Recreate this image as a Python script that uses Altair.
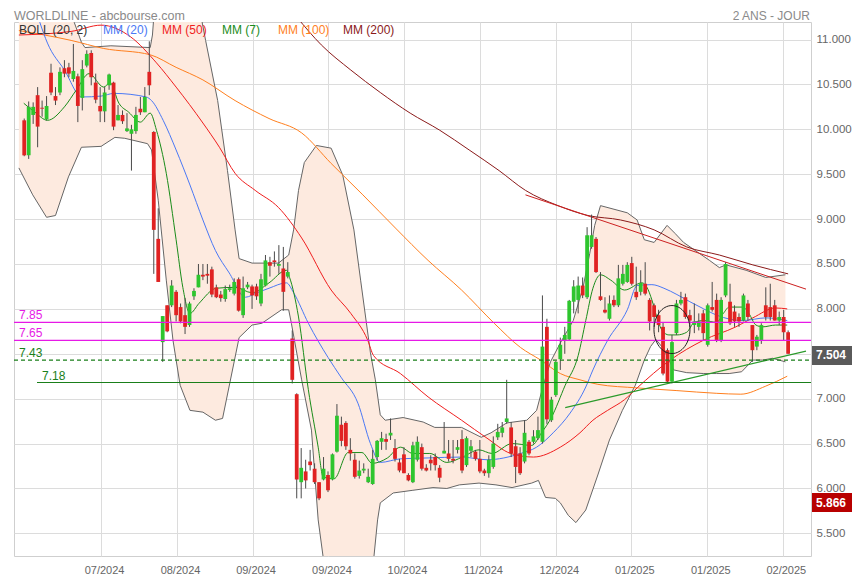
import altair as alt
import pandas as pd

# ---------------- data ----------------
opens = [10.10, 9.71, 10.16, 10.38, 10.24, 10.11, 10.63, 10.37, 10.41, 10.68,
         10.69, 10.56, 10.59, 10.35, 10.71, 10.85, 10.52, 10.26, 10.20, 10.49,
         10.52, 10.10, 10.16, 9.98, 9.95, 9.98, 10.23, 10.19, 10.64, 9.97,
         8.78, 7.63, 8.04, 8.04, 8.19, 8.02, 7.93, 7.82, 8.14, 8.24,
         8.38, 8.39, 8.44, 8.24, 8.16, 8.11, 8.21, 8.17, 8.33, 7.93,
         8.24, 8.25, 8.25, 8.06, 8.26, 8.52, 8.54, 8.48, 8.45, 8.36,
         7.67, 7.05, 6.07, 6.19, 6.30, 6.22, 6.07, 6.10, 6.15, 6.10,
         6.41, 6.71, 6.73, 6.43, 6.32, 6.14, 6.20, 6.07, 6.05, 6.35,
         6.52, 6.55, 6.59, 6.45, 6.29, 6.38, 6.15, 6.07, 6.32, 6.46,
         6.23, 6.32, 6.35, 6.23, 6.39, 6.39, 6.33, 6.43, 6.55, 6.26,
         6.42, 6.41, 6.33, 6.20, 6.17, 6.24, 6.57, 6.62, 6.74, 6.68,
         6.47, 6.39, 6.30, 6.52, 6.52, 6.56, 6.52, 7.80, 6.76, 7.04,
         7.44, 7.65, 7.66, 8.08, 8.10, 8.26, 8.13, 8.69, 8.78, 8.14,
         7.99, 7.89, 8.10, 8.04, 8.28, 8.30, 8.51, 8.19, 8.19, 8.28,
         8.10, 8.04, 7.93, 7.80, 7.54, 7.19, 7.73, 8.06, 8.13, 7.93,
         7.82, 7.80, 7.95, 7.60, 8.02, 8.10, 7.65, 8.15, 8.08, 7.97,
         7.91, 7.87, 8.06, 7.82, 7.58, 7.65, 8.04, 8.02, 8.04, 7.87,
         7.91, 7.74]
highs = [10.12, 10.31, 10.30, 10.47, 10.32, 10.37, 10.73, 10.47, 10.69, 10.77,
         10.74, 10.95, 10.62, 10.77, 10.88, 10.88, 10.62, 10.47, 10.47, 10.62,
         10.53, 10.27, 10.21, 10.18, 10.05, 10.25, 10.36, 10.47, 10.98, 9.98,
         9.12, 7.92, 8.04, 8.32, 8.21, 8.06, 8.12, 8.08, 8.23, 8.50,
         8.50, 8.50, 8.47, 8.27, 8.20, 8.26, 8.27, 8.34, 8.35, 8.36,
         8.30, 8.27, 8.28, 8.39, 8.60, 8.58, 8.64, 8.71, 8.69, 8.52,
         7.76, 7.06, 6.45, 6.32, 6.43, 6.28, 6.07, 6.35, 6.19, 6.39,
         6.94, 6.80, 6.75, 6.56, 6.39, 6.31, 6.28, 6.22, 6.43, 6.54,
         6.63, 6.61, 6.78, 6.55, 6.33, 6.46, 6.17, 6.52, 6.58, 6.50,
         6.27, 6.37, 6.39, 6.26, 6.74, 6.54, 6.54, 6.54, 6.65, 6.58,
         6.54, 6.43, 6.54, 6.22, 6.37, 6.58, 6.72, 6.74, 7.21, 6.74,
         6.54, 6.46, 6.76, 6.54, 6.65, 6.80, 8.15, 7.89, 7.02, 7.42,
         7.68, 7.80, 8.10, 8.32, 8.36, 8.35, 8.91, 9.05, 8.80, 8.41,
         8.13, 8.15, 8.15, 8.49, 8.49, 8.52, 8.58, 8.47, 8.43, 8.52,
         8.12, 8.06, 7.99, 7.85, 7.56, 7.71, 8.10, 8.19, 8.17, 7.99,
         8.06, 7.95, 7.99, 8.06, 8.30, 8.17, 8.13, 8.52, 8.28, 8.04,
         7.95, 8.17, 8.10, 7.82, 7.71, 7.84, 8.24, 8.28, 8.10, 7.97,
         7.99, 7.76]
lows = [9.70, 9.67, 10.06, 9.80, 10.14, 10.10, 10.38, 10.27, 10.38, 10.58,
        10.58, 10.53, 10.08, 10.21, 10.69, 10.49, 10.29, 10.08, 10.08, 10.44,
        9.99, 10.10, 10.06, 9.97, 9.54, 9.95, 10.16, 10.19, 10.38, 8.39,
        8.30, 7.41, 7.74, 8.02, 7.86, 7.84, 7.72, 7.80, 8.10, 8.24,
        8.32, 8.28, 8.13, 8.12, 8.08, 8.08, 8.19, 8.15, 7.97, 7.90,
        8.22, 8.00, 8.10, 8.03, 8.25, 8.36, 8.47, 8.39, 7.98, 8.34,
        7.17, 5.89, 5.89, 6.00, 6.20, 6.05, 5.87, 6.09, 5.96, 6.09,
        6.40, 6.47, 6.43, 6.31, 6.11, 6.11, 6.17, 6.06, 6.04, 6.31,
        6.43, 6.43, 6.54, 6.30, 6.18, 6.17, 6.08, 6.06, 6.30, 6.20,
        6.19, 6.20, 6.20, 6.07, 6.39, 6.30, 6.28, 6.39, 6.17, 6.24,
        6.35, 6.31, 6.17, 6.14, 6.12, 6.22, 6.54, 6.57, 6.72, 6.35,
        6.06, 6.15, 6.28, 6.37, 6.50, 6.54, 6.50, 6.72, 6.74, 7.02,
        7.32, 7.50, 7.65, 7.95, 7.95, 8.12, 8.11, 8.67, 8.40, 8.09,
        7.95, 7.87, 8.02, 8.02, 8.26, 8.29, 8.26, 8.10, 8.15, 8.15,
        7.76, 7.80, 7.74, 7.26, 7.18, 7.17, 7.71, 8.04, 7.89, 7.80,
        7.73, 7.76, 7.65, 7.58, 7.97, 7.63, 7.63, 8.13, 7.82, 7.80,
        7.80, 7.86, 7.87, 7.41, 7.54, 7.61, 7.87, 7.87, 7.87, 7.82,
        7.65, 7.50]
closes = [9.71, 10.25, 10.25, 10.03, 10.23, 10.26, 10.41, 10.32, 10.64, 10.62,
          10.62, 10.65, 10.26, 10.67, 10.84, 10.58, 10.33, 10.20, 10.41, 10.61,
          10.03, 10.16, 10.09, 10.01, 10.00, 10.16, 10.19, 10.36, 10.49, 8.88,
          8.30, 7.92, 7.75, 8.26, 7.93, 7.86, 7.80, 8.06, 8.20, 8.38,
          8.36, 8.37, 8.16, 8.13, 8.12, 8.22, 8.23, 8.30, 7.98, 8.23,
          8.27, 8.15, 8.14, 8.33, 8.54, 8.48, 8.52, 8.50, 8.19, 8.41,
          7.21, 6.10, 6.23, 6.09, 6.26, 6.07, 5.89, 6.22, 5.98, 6.38,
          6.81, 6.53, 6.47, 6.39, 6.13, 6.20, 6.22, 6.13, 6.33, 6.53,
          6.56, 6.52, 6.62, 6.33, 6.20, 6.17, 6.09, 6.48, 6.52, 6.22,
          6.20, 6.28, 6.26, 6.12, 6.42, 6.33, 6.31, 6.46, 6.20, 6.56,
          6.47, 6.33, 6.19, 6.17, 6.32, 6.50, 6.63, 6.68, 6.78, 6.39,
          6.24, 6.17, 6.62, 6.39, 6.58, 6.65, 7.58, 6.77, 6.99, 7.41,
          7.60, 7.71, 8.09, 8.25, 8.26, 8.15, 8.82, 8.82, 8.41, 8.10,
          7.96, 8.06, 8.04, 8.34, 8.39, 8.49, 8.28, 8.13, 8.29, 8.17,
          7.86, 7.91, 7.82, 7.28, 7.19, 7.63, 8.06, 8.10, 7.91, 7.87,
          7.86, 7.86, 7.73, 8.04, 7.99, 7.65, 8.10, 8.50, 7.84, 7.86,
          7.86, 8.15, 7.91, 7.54, 7.69, 7.82, 7.91, 7.91, 7.87, 7.91,
          7.74, 7.50]

# moving averages (session index, price)
mm200_i = [61.0, 66.5, 73.1, 79.7, 86.4, 93.0, 99.6, 106.3, 112.2, 119.5, 126.2,
           133.5, 141.0, 148.3, 155.6, 163.1, 171.0]
mm200_v = [11.25, 10.94, 10.66, 10.41, 10.18, 9.99, 9.77, 9.54, 9.32, 9.15, 9.04,
           8.99, 8.88, 8.69, 8.60, 8.49, 8.39]

mm100_i = [-1.2, 10.5, 17.8, 28.2, 34.0, 40.0, 47.2, 54.8, 62.1, 68.7, 75.8, 83.1,
           90.4, 97.9, 105.2, 111.1, 115.6, 120.0, 124.4, 128.4, 137.2, 146.1,
           154.9, 160.4, 166.0, 170.8]
mm100_v = [11.10, 10.99, 10.90, 10.83, 10.69, 10.55, 10.32, 10.12, 9.96, 9.62, 9.27,
           8.90, 8.54, 8.21, 7.84, 7.57, 7.43, 7.28, 7.21, 7.16, 7.12, 7.09, 7.06,
           7.05, 7.14, 7.25]

mm50_i = [-1.2, 10.5, 17.2, 23.8, 29.6, 34.0, 40.0, 43.7, 47.2, 51.7, 56.9, 62.1,
          68.7, 73.1, 76.9, 78.2, 84.2, 90.4, 97.9, 103.6, 108.9, 114.0, 120.0,
          124.4, 127.3, 130.6, 134.4, 137.2, 144.6, 152.0, 159.3, 163.1, 168.2, 170.8]
mm50_v = [11.05, 11.09, 11.16, 11.03, 10.74, 10.47, 10.07, 9.80, 9.51, 9.32, 9.13,
          8.79, 8.21, 7.95, 7.65, 7.48, 7.28, 7.02, 6.76, 6.56, 6.39, 6.35, 6.46,
          6.62, 6.76, 6.87, 6.99, 7.12, 7.43, 7.65, 7.80, 7.90, 8.01, 8.00]

mm20_i = [2.5, 3.5, 5.2, 9.0, 12.9, 17.2, 20.1, 27.3, 28.5, 31.1, 34.0, 37.1, 40.0,
          42.8, 45.9, 49.5, 52.1, 54.8, 58.7, 60.3, 63.6, 68.0, 70.9, 74.7, 77.5,
          79.7, 84.2, 90.4, 97.9, 103.6, 111.1, 114.7, 118.4, 122.2, 125.7, 127.3,
          130.6, 135.0, 137.2, 140.5, 143.2, 146.1, 149.0, 152.1, 155.0, 160.9,
          166.0, 170.8]
mm20_v = [11.35, 11.19, 10.96, 10.66, 10.36, 10.37, 10.40, 10.36, 10.32, 10.10, 9.77,
          9.38, 8.99, 8.65, 8.40, 8.13, 8.18, 8.23, 8.29, 8.18, 7.84, 7.46, 7.24,
          6.95, 6.50, 6.29, 6.33, 6.34, 6.35, 6.32, 6.39, 6.46, 6.62, 6.84, 7.13,
          7.32, 7.65, 7.99, 8.26, 8.27, 8.23, 8.16, 8.08, 8.00, 7.93, 7.87, 7.90,
          7.87]

mm7_i = [-0.1, 2.4, 5.2, 9.0, 11.7, 14.5, 17.8, 19.2, 21.2, 23.4, 26.0, 28.2, 29.6,
         31.8, 34.0, 35.5, 37.1, 39.1, 43.0, 47.2, 51.0, 54.8, 58.7, 59.4, 61.4,
         63.6, 65.8, 66.9, 69.4, 72.5, 75.6, 77.9, 81.3, 84.2, 87.0, 90.8, 94.6,
         98.1, 101.8, 104.7, 109.2, 113.6, 115.8, 118.0, 121.1, 124.0, 125.7,
         127.3, 129.0, 131.3,
         134.4, 138.3, 139.4, 140.5, 141.6, 142.8, 144.3, 146.1, 148.3, 150.0,
         152.1, 155.0, 156.5, 157.8, 160.9, 162.2, 163.8, 165.3, 168.2, 170.8]
mm7_v = [10.29, 10.19, 10.10, 10.25, 10.44, 10.62, 10.47, 10.52, 10.29, 10.19, 10.08,
         10.18, 9.99, 9.51, 8.77, 8.24, 7.95, 8.06, 8.23, 8.24, 8.18, 8.29, 8.43,
         8.35, 7.91, 7.10, 6.46, 6.13, 6.11, 6.40, 6.40, 6.28, 6.34, 6.46, 6.39,
         6.39, 6.29, 6.35, 6.43, 6.39, 6.50, 6.48, 6.62, 6.79, 7.15, 7.48, 7.87,
         8.23, 8.38, 8.32,
         8.21, 8.29, 8.24, 8.10, 7.91, 7.76, 7.71, 7.71, 7.74, 7.85,
         7.87, 7.85, 7.95, 8.02, 8.02, 7.95, 7.82, 7.80, 7.82, 7.82]

# Bollinger (20, 2)
boll_up_i = [-1.2, 9.0, 11.2, 12.8, 13.6, 19.4, 28.2, 28.7, 29.3, 32.2, 36.6, 39.3,
             40.6, 43.3, 45.5, 47.2, 48.1, 51.0, 56.9, 59.2, 60.3, 61.4, 62.7, 65.4,
             68.7, 71.3, 73.8, 75.3, 77.5, 78.6, 79.7, 80.8, 84.8, 89.3, 91.9, 97.9,
             102.3, 104.5, 108.0, 112.5, 114.7, 116.2, 117.8, 120.0, 122.9, 125.1,
             126.6, 127.7, 129.0, 135.0, 137.2, 138.8, 141.0, 143.9, 145.7, 147.6,
             153.4, 155.6, 157.1, 161.6, 166.0, 170.4]
boll_up_v = [11.77, 11.49, 11.19, 10.97, 10.91, 10.93, 10.91, 11.05, 11.44, 12.11,
             11.88, 11.33, 10.99, 10.32, 9.54, 8.88, 8.56, 8.51, 8.51, 8.60, 8.88,
             9.32, 9.63, 9.82, 9.79, 9.49, 8.88, 8.32, 7.51, 7.21, 6.82, 6.76, 6.79,
             6.74, 6.68, 6.68, 6.57, 6.62, 6.73, 6.76, 6.87, 7.15, 7.41, 7.62, 7.87,
             8.24, 8.62, 8.93, 9.15, 9.07, 8.99, 8.77, 8.74, 8.93, 8.84, 8.74, 8.54,
             8.46, 8.49, 8.43, 8.35, 8.38]
boll_lo_i = [-1.2, 1.9, 5.0, 7.0, 9.9, 12.8, 17.2, 20.3, 22.5, 27.6, 28.5, 30.0, 31.8,
             33.3, 34.9, 37.1, 40.0, 42.8, 44.4, 48.1, 51.0, 53.2, 57.6, 59.2, 59.8,
             62.1, 64.3, 65.8, 67.6, 72.0, 76.4, 78.2, 79.1, 79.7, 82.6, 87.0, 91.5,
             94.6, 97.4, 101.8, 105.6, 109.2, 113.6, 115.1, 116.7, 118.9, 120.0,
             121.8, 123.5, 125.7, 128.4, 131.0, 133.9, 136.8, 138.8, 140.2, 141.4,
             143.2, 145.4, 148.3, 152.1, 155.0, 157.8, 160.6, 163.1, 165.3, 167.5,
             170.4]
boll_lo_v = [9.57, 9.27, 9.02, 9.04, 9.47, 9.80, 9.81, 9.91, 9.90, 9.84, 9.77, 9.21,
             8.32, 7.65, 7.15, 6.87, 6.85, 6.76, 6.78, 7.68, 7.82, 7.84, 7.99, 7.99,
             7.84, 7.21, 6.65, 5.65, 4.98, 4.53, 4.76, 5.20, 5.65, 5.84, 5.95, 5.98,
             6.01, 6.00, 6.04, 6.06, 6.04, 6.01, 6.06, 6.09, 5.90, 5.89, 5.84, 5.70,
             5.62, 5.76, 6.15, 6.54, 6.87, 7.15, 7.43, 7.58, 7.66, 7.55, 7.32, 7.29,
             7.28, 7.28, 7.28, 7.30, 7.43, 7.43, 7.45, 7.41]

# drawn trend lines
resist_i = [112.2, 175.0]
resist_v = [9.27, 8.22]
support_i = [121.1, 175.0]
support_v = [6.90, 7.53]

# horizontal levels
levels = [7.85, 7.65, 7.43, 7.18]
level_text = ["7.85", "7.65", "7.43", "7.18"]

# circled zone
circle_i = [145.0]
circle_v = [7.77]

# axis ticks
xtick_pos = [17.2, 34.2, 51.1, 68.1, 85.0, 102.0, 119.0, 135.9, 152.9, 169.8]
xtick_labels = ["07/2024", "08/2024", "09/2024", "09/2024", "10/2024", "11/2024",
                "12/2024", "01/2025", "01/2025", "02/2025"]
ytick_vals = [5.5, 6.0, 6.5, 7.0, 7.5, 8.0, 8.5, 9.0, 9.5, 10.0, 10.5, 11.0]
ytick_hidden = 7.5   # label covered by the last-price badge

last_price = 7.504
ref_price = 5.866

legend_names = ["BOLL (20, 2)", "MM (20)", "MM (50)", "MM (7)", "MM (100)", "MM (200)"]

# ---------------- chart ----------------
W, H = 797, 534
RIGHT = 41
FONT = "Liberation Sans"
GREEN_UP = "#2ec52e"
RED_DN = "#e02222"

xs = alt.Scale(domain=[-1.17, 175.0], nice=False, zero=False)
ys = alt.Scale(domain=[5.248, 11.195], nice=False, zero=False)

candles = pd.DataFrame({"i": list(range(len(opens))), "open": opens, "high": highs,
                        "low": lows, "close": closes})
candles["dir"] = ["up" if c >= o else "down" for o, c in zip(opens, closes)]

def series(ii, vv):
    return pd.DataFrame({"i": ii, "v": vv})

up_df = series(boll_up_i, boll_up_v)
lo_df = series(boll_lo_i, boll_lo_v)
poly = pd.concat([up_df.assign(o=range(len(up_df))),
                  lo_df.iloc[::-1].assign(o=range(len(up_df), len(up_df) + len(lo_df)))])

labels_js = "[" + ",".join("'%s'" % l for l in xtick_labels) + "]"
pos_js = "[" + ",".join(str(p) for p in xtick_pos) + "]"

X_AX = alt.Axis(values=xtick_pos, labelExpr="%s[indexof(%s, datum.value)]" % (labels_js, pos_js),
                title=None, grid=True, ticks=False, tickSize=0, domain=False,
                labelBaseline="middle", labelPadding=14, labelFontSize=11, labelOffset=3,
                labelColor="#666666", labelFont=FONT, gridColor="#dcdcdc", labelFlush=False)
Y_AX = alt.Axis(values=ytick_vals,
                labelExpr="datum.value == %s ? '' : format(datum.value, '.3f')" % ytick_hidden,
                orient="right", title=None, grid=True,
                ticks=False, tickSize=0, domain=False, labelPadding=5, labelFontSize=11.5,
                labelColor="#666666", labelFont=FONT, gridColor="#dcdcdc")

def xq():
    return alt.X("i:Q", scale=xs, axis=X_AX)

def yq(field="v"):
    return alt.Y(field + ":Q", scale=ys, axis=Y_AX)

band_fill = alt.Chart(poly).mark_line(fill="#fdeadf", stroke="#fdeadf", strokeWidth=0,
                                      clip=True).encode(x=xq(), y=yq(), order="o:Q")
band_up = alt.Chart(up_df).mark_line(color="#666666", strokeWidth=1, clip=True).encode(x=xq(), y=yq())
band_lo = alt.Chart(lo_df).mark_line(color="#666666", strokeWidth=1, clip=True).encode(x=xq(), y=yq())

def ma(ii, vv, color, width=1.0):
    return alt.Chart(series(ii, vv)).mark_line(color=color, strokeWidth=width, clip=True,
                                               interpolate="monotone").encode(x=xq(), y=yq())

l_mm100 = ma(mm100_i, mm100_v, "#ff7f1e")
l_mm200 = ma(mm200_i, mm200_v, "#8b1a1a")
l_mm50 = ma(mm50_i, mm50_v, "#f01e1e")
l_mm20 = ma(mm20_i, mm20_v, "#4a78f5")
l_mm7 = ma(mm7_i, mm7_v, "#1a8c1a")

resist = alt.Chart(series(resist_i, resist_v)).mark_line(color="#cc2020", strokeWidth=1, clip=True).encode(x=xq(), y=yq())
support = alt.Chart(series(support_i, support_v)).mark_line(color="#2a9a2a", strokeWidth=1.2, clip=True).encode(x=xq(), y=yq())

wicks = alt.Chart(candles).mark_rule(color="#4a4a4a", strokeWidth=1).encode(
    x=xq(), y=yq("low"), y2="high:Q")
bodies = alt.Chart(candles).mark_bar(size=3.8).encode(
    x=xq(), y=yq("open"), y2="close:Q",
    color=alt.Color("dir:N", scale=alt.Scale(domain=["up", "down"], range=[GREEN_UP, RED_DN]), legend=None))

lvl = pd.DataFrame({"v": levels, "t": level_text})
mag = lvl.iloc[0:2]
dash = lvl.iloc[2:3]
sol = lvl.iloc[3:4]
lv_mag = alt.Chart(mag).mark_rule(color="#e619e6", strokeWidth=1.2).encode(
    x=alt.value(0), x2=alt.value(W), y=yq())
lv_dash = alt.Chart(dash).mark_rule(color="#1a7f1a", strokeWidth=1.2, strokeDash=[4, 3]).encode(
    x=alt.value(0), x2=alt.value(W), y=yq())
lv_sol = alt.Chart(sol).mark_rule(color="#1a7f1a", strokeWidth=1.2).encode(
    x=alt.value(23), x2=alt.value(W), y=yq())
txt_mag = alt.Chart(mag).mark_text(align="left", baseline="middle", dy=-7, fontSize=12,
                                   font=FONT, color="#e619e6").encode(x=alt.value(5), y=yq(), text="t:N")
txt_dash = alt.Chart(dash).mark_text(align="left", baseline="middle", dy=-7, fontSize=12,
                                     font=FONT, color="#1a7f1a").encode(x=alt.value(5), y=yq(), text="t:N")
txt_sol = alt.Chart(sol).mark_text(align="left", baseline="middle", dy=-7, fontSize=12,
                                   font=FONT, color="#1a7f1a").encode(x=alt.value(28), y=yq(), text="t:N")

ellipse_path = "M -0.75 0 A 0.75 1 0 1 0 0.75 0 A 0.75 1 0 1 0 -0.75 0 Z"
circle = alt.Chart(series(circle_i, circle_v)).mark_point(
    shape=ellipse_path, size=2304, filled=False, stroke="#222222", strokeWidth=1, opacity=1
).encode(x=xq(), y=yq())

legend_x = [5, 89, 148, 208, 264, 329]
legend_colors = ["#333333", "#4a78f5", "#f01e1e", "#1a8c1a", "#ff7f1e", "#8b1a1a"]
legend_layers = []
for name, lx, col in zip(legend_names, legend_x, legend_colors):
    legend_layers.append(
        alt.Chart(pd.DataFrame({"t": [name]})).mark_text(
            align="left", baseline="middle", fontSize=12, font=FONT, color=col
        ).encode(x=alt.value(lx), y=alt.value(8), text="t:N"))

title_l = alt.Chart(pd.DataFrame({"t": ["WORLDLINE - abcbourse.com"]})).mark_text(
    align="left", baseline="middle", fontSize=12.5, font=FONT, color="#8a8a8a"
).encode(x=alt.value(0), y=alt.value(-6), text="t:N")
title_r = alt.Chart(pd.DataFrame({"t": ["2 ANS - JOUR"]})).mark_text(
    align="right", baseline="middle", fontSize=12, font=FONT, color="#8a8a8a"
).encode(x=alt.value(W - 1), y=alt.value(-6), text="t:N")

badges = pd.DataFrame({"v": [last_price, ref_price],
                       "t": ["%.3f" % last_price, "%.3f" % ref_price],
                       "k": ["last", "ref"]})
badge_rect = alt.Chart(badges).mark_rect(height=19, yOffset=2).encode(
    x=alt.value(W + 1), x2=alt.value(W + RIGHT), y=yq(),
    color=alt.Color("k:N", scale=alt.Scale(domain=["last", "ref"], range=["#5a5a5a", "#b80000"]), legend=None))
badge_text = alt.Chart(badges).mark_text(align="left", baseline="middle", fontSize=12, dy=2,
                                         font=FONT, fontWeight="bold", color="white").encode(
    x=alt.value(W + 5), y=yq(), text="t:N")

chart = alt.layer(
    band_fill, band_up, band_lo,
    l_mm100, l_mm200, l_mm50, l_mm20, l_mm7,
    resist, support,
    wicks, bodies,
    lv_mag, lv_dash, lv_sol, txt_mag, txt_dash, txt_sol,
    circle, *legend_layers, title_l, title_r, badge_rect, badge_text
).resolve_scale(color="independent").properties(
    width=W, height=H,
    autosize=alt.AutoSizeParams(type="none"),
    padding={"left": 6, "top": 14, "right": RIGHT, "bottom": 22},
    background="white",
).configure_view(stroke="#cfcfcf", strokeWidth=1)

chart.save("out.html", embed_options={"renderer": "svg", "actions": False})
